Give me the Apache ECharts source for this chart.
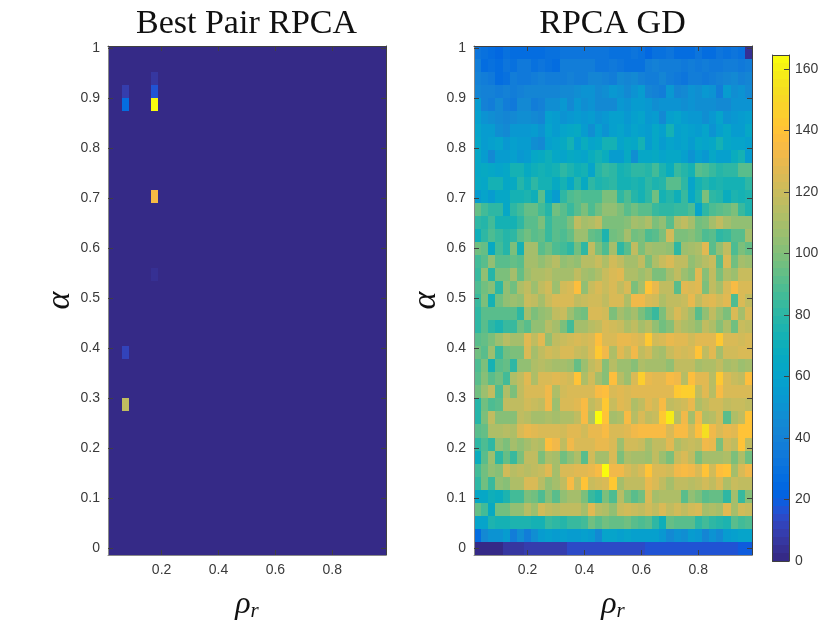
<!DOCTYPE html>
<html>
<head>
<meta charset="utf-8">
<title>Best Pair RPCA vs RPCA GD</title>
<script src="https://cdn.jsdelivr.net/npm/echarts@6/dist/echarts.min.js"></script>
<style>
html, body { margin: 0; padding: 0; background: #fff; }
#chartContainer { width: 830px; height: 623px; }
</style>
</head>
<body>
<div id="chartContainer"></div>
<script>
var xTicks = [0.2, 0.4, 0.6, 0.8];
var yTicks = [0, 0.1, 0.2, 0.3, 0.4, 0.5, 0.6, 0.7, 0.8, 0.9, 1];
var colorTicks = [0, 20, 40, 60, 80, 100, 120, 140, 160];

// right panel, one list per row, top row first
var gdRows = [
[31,29,28,25,29,28,27,27,26,28,30,29,31,31,32,33,31,31,32,30,29,30,31,29,25,29,30,32,27,26,28,31,28,28,31,29,31,29,4],
[38,27,30,27,31,30,34,34,30,33,29,28,37,36,36,38,38,33,33,34,33,30,29,30,37,40,38,37,36,34,36,35,36,34,35,36,38,35,38],
[41,38,34,28,29,38,35,34,38,41,37,38,38,39,37,36,42,43,40,38,46,42,44,40,38,38,42,38,35,33,37,37,34,38,39,42,44,41,43],
[42,39,40,38,40,38,41,42,43,43,42,43,46,44,47,50,50,44,48,52,50,46,50,54,42,40,36,52,42,46,50,48,52,50,38,54,48,50,46],
[56,40,38,44,38,34,46,44,38,40,48,48,52,46,52,48,50,46,44,46,52,50,56,54,52,48,50,50,50,48,50,48,48,48,44,46,50,50,50],
[58,50,48,46,42,44,48,48,44,42,58,54,50,52,54,52,54,50,52,58,58,52,58,60,52,54,44,58,60,54,52,52,48,52,60,50,52,56,58],
[60,54,54,48,44,52,52,52,56,50,60,56,60,62,66,54,48,58,50,58,60,54,60,58,56,62,58,74,58,60,58,56,60,50,58,62,56,56,62],
[62,56,58,60,52,58,54,56,48,46,58,60,66,72,58,68,60,64,72,72,60,66,62,74,56,62,54,60,58,60,56,62,60,64,72,62,60,60,58],
[64,54,46,56,54,58,52,56,64,66,70,62,60,66,62,60,68,72,68,54,54,66,48,62,62,66,60,62,62,58,50,58,52,62,58,58,68,74,56],
[62,66,64,60,62,72,74,66,70,74,70,74,80,76,70,74,60,78,84,80,72,76,80,80,78,86,76,68,84,78,72,90,88,84,78,80,82,92,90],
[66,64,72,72,62,66,78,70,82,72,72,66,72,62,78,66,82,76,78,80,72,72,76,74,80,76,78,90,90,80,60,74,78,72,76,74,72,74,80],
[56,60,56,64,64,72,72,76,70,92,66,56,82,88,90,88,88,88,100,100,82,88,78,72,80,96,72,78,70,84,62,76,98,80,78,68,76,72,76],
[94,86,80,82,64,80,86,94,94,86,78,96,90,84,92,98,88,96,104,104,98,92,96,90,90,84,80,80,84,84,88,60,82,88,92,94,100,84,76],
[82,78,86,74,72,72,82,92,90,98,84,90,90,98,118,110,112,116,98,98,98,102,110,106,112,100,104,90,112,118,108,96,100,110,118,110,104,104,104],
[70,82,88,84,78,82,92,96,90,94,84,90,88,94,106,106,94,92,76,96,100,108,96,100,88,92,98,122,100,98,102,96,88,90,82,84,90,92,108],
[96,94,66,86,78,100,72,110,108,90,96,88,86,82,96,80,116,98,88,108,80,92,118,100,108,106,106,104,82,106,110,112,127,92,104,116,88,100,94],
[86,90,104,92,92,94,92,108,108,104,110,114,104,106,104,114,114,120,112,122,116,108,108,116,100,112,120,124,118,116,104,108,114,120,92,124,96,110,106],
[84,104,78,100,100,110,94,106,112,112,114,110,108,108,118,110,106,112,120,124,127,112,112,106,112,100,100,108,118,106,102,128,102,118,100,112,106,120,120],
[88,96,102,80,104,96,112,118,106,118,122,106,123,125,138,104,120,124,120,124,118,125,100,108,140,130,116,118,90,127,125,128,100,116,108,124,136,124,124],
[84,98,74,96,104,106,104,120,116,108,120,124,125,124,118,120,123,122,118,124,124,112,132,133,124,123,112,116,118,120,131,116,124,127,122,127,88,124,116],
[82,90,90,90,90,92,82,110,100,104,106,118,120,106,100,96,124,124,122,100,110,104,108,100,90,84,100,114,124,116,110,92,104,118,106,98,124,110,125],
[80,90,80,76,84,84,96,90,104,104,114,108,98,86,108,110,114,118,124,122,120,112,118,108,114,104,96,102,118,112,108,104,118,112,102,112,96,120,118],
[92,94,100,106,114,110,110,127,116,127,104,118,120,123,124,123,124,138,124,125,130,130,127,124,142,122,124,130,128,127,122,127,127,128,142,125,125,123,124],
[96,92,106,84,96,100,100,124,108,118,123,120,124,125,120,116,124,142,132,112,128,120,133,118,123,112,110,120,124,123,124,140,118,128,110,122,122,125,125],
[88,98,72,90,94,80,104,104,112,114,112,108,108,106,94,106,116,122,102,114,106,106,102,112,108,110,108,104,116,116,116,108,112,112,118,108,112,106,108],
[92,102,92,96,86,112,118,128,112,124,124,128,124,122,140,112,122,108,102,138,114,106,125,145,130,127,128,136,132,114,138,127,127,114,142,124,120,118,138],
[96,106,116,88,112,100,118,124,124,124,132,112,123,124,124,124,125,135,138,125,127,124,127,127,127,127,127,127,142,144,144,116,127,114,136,124,124,124,125],
[78,96,88,90,116,116,116,122,120,116,132,106,125,125,128,136,116,122,142,120,128,124,112,118,128,123,135,118,120,122,130,112,118,122,122,118,120,120,118],
[78,100,116,102,102,102,118,114,108,108,112,110,112,112,118,135,112,164,140,110,112,135,114,125,116,120,142,158,114,132,110,133,112,114,122,90,112,116,140],
[92,94,112,112,114,112,125,130,127,124,124,125,123,128,128,123,131,130,136,124,124,127,132,136,136,136,136,124,136,136,122,138,152,132,124,130,128,140,140],
[80,88,80,104,100,110,104,108,114,112,138,132,118,133,124,124,124,131,130,125,106,123,122,120,108,118,116,128,112,118,120,118,133,131,100,122,116,140,118],
[68,90,106,80,94,84,98,116,116,100,112,108,96,104,112,92,122,108,108,124,100,112,108,110,106,116,106,100,120,125,118,98,110,110,108,112,100,112,96],
[86,96,104,102,122,114,118,114,116,120,128,110,125,125,127,128,130,135,164,132,133,125,120,124,140,124,124,122,133,136,133,124,140,123,138,140,110,125,133],
[82,96,84,104,102,112,112,124,124,114,104,110,116,136,116,140,120,122,124,142,110,118,118,116,130,124,118,110,118,116,114,116,122,116,124,112,120,118,118],
[64,64,70,68,76,86,86,98,96,88,102,92,104,108,108,100,84,78,100,88,114,98,92,96,124,108,112,112,112,92,104,100,92,94,94,82,110,84,102],
[94,86,66,96,96,104,104,114,106,122,116,114,116,116,116,108,127,114,112,104,120,122,120,118,122,116,124,118,122,116,122,124,108,112,108,128,108,122,120],
[60,60,76,72,72,76,76,76,72,74,84,82,78,84,84,86,96,90,96,94,94,96,90,88,90,82,70,94,90,92,90,82,86,80,78,76,92,86,88],
[28,44,50,50,54,38,48,36,48,54,58,56,58,56,56,58,56,46,60,60,58,60,58,58,58,58,52,46,50,48,56,52,42,50,46,54,58,60,60],
[2,2,2,2,6,6,6,8,8,8,8,8,8,14,14,14,14,14,14,14,14,14,14,14,16,16,16,16,16,16,16,16,16,16,16,16,16,20,20]
];

// left panel is flat apart from these cells: [column, row from top, value]
var bestPairBase = 1;
var bestPairCells = [
  [2, 3, 8], [2, 4, 28], [2, 23, 12], [2, 27, 118],
  [6, 2, 6], [6, 3, 16], [6, 4, 164], [6, 11, 136], [6, 17, 5]
];

var parula = [
[.2081,.1663,.5292],[.2116,.1898,.5777],[.2123,.2138,.6270],[.2081,.2386,.6771],
[.1959,.2645,.7279],[.1707,.2919,.7792],[.1253,.3242,.8303],[.0591,.3598,.8683],
[.0117,.3875,.8820],[.0060,.4086,.8828],[.0165,.4266,.8786],[.0329,.4430,.8720],
[.0498,.4586,.8641],[.0629,.4737,.8554],[.0723,.4887,.8467],[.0779,.5040,.8384],
[.0793,.5200,.8312],[.0749,.5375,.8263],[.0641,.5570,.8240],[.0488,.5772,.8228],
[.0343,.5966,.8199],[.0265,.6137,.8135],[.0239,.6287,.8038],[.0231,.6418,.7913],
[.0228,.6535,.7768],[.0267,.6642,.7607],[.0384,.6743,.7436],[.0590,.6838,.7254],
[.0843,.6928,.7062],[.1133,.7015,.6859],[.1453,.7098,.6646],[.1801,.7177,.6424],
[.2178,.7250,.6193],[.2586,.7317,.5954],[.3022,.7376,.5712],[.3482,.7424,.5473],
[.3953,.7459,.5244],[.4420,.7481,.5033],[.4871,.7491,.4840],[.5300,.7491,.4661],
[.5709,.7485,.4494],[.6099,.7473,.4337],[.6473,.7456,.4188],[.6834,.7435,.4044],
[.7184,.7411,.3905],[.7525,.7384,.3768],[.7858,.7356,.3633],[.8185,.7327,.3498],
[.8507,.7299,.3360],[.8824,.7274,.3217],[.9139,.7258,.3063],[.9450,.7261,.2886],
[.9739,.7314,.2666],[.9938,.7455,.2403],[.9990,.7653,.2164],[.9955,.7861,.1967],
[.9880,.8066,.1794],[.9789,.8271,.1633],[.9697,.8481,.1475],[.9626,.8705,.1309],
[.9589,.8949,.1132],[.9598,.9218,.0948],[.9661,.9514,.0755],[.9763,.9831,.0538]
];

var xMin = 0.0116, xMax = 0.9887;
var yMin = -0.014, yMax = 1.004;
var colorMax = 164.5;
var nCols = 39, nRows = 39;
var cellW = (xMax - xMin) / nCols;
var cellH = (yMax - yMin) / nRows;
var levelH = colorMax / parula.length;

var axisGrey = '#404040';
var textGrey = '#3a3a3a';

function toCell(col, row, value) {
    return [xMin + (col + 0.5) * cellW, yMax - (row + 0.5) * cellH, value];
}

var gdData = [];
gdRows.forEach(function (values, row) {
    values.forEach(function (v, col) {
        gdData.push(toCell(col, row, v));
    });
});

var bestPairData = [];
for (var r = 0; r < nRows; r++) {
    for (var c = 0; c < nCols; c++) {
        bestPairData.push(toCell(c, r, bestPairBase));
    }
}
bestPairCells.forEach(function (cell) {
    bestPairData[cell[1] * nCols + cell[0]] = toCell(cell[0], cell[1], cell[2]);
});

var colorbarData = parula.map(function (rgb, i) {
    return [0.5, (i + 0.5) * levelH, (i + 0.5) * levelH];
});

var pieces = parula.map(function (rgb, i) {
    return {
        min: i * levelH,
        max: i === parula.length - 1 ? 1000 : (i + 1) * levelH,
        color: 'rgb(' + rgb.map(function (v) { return Math.round(v * 255); }).join(',') + ')'
    };
});

// corners are snapped to whole pixels, otherwise neighbouring cells show seams
function cellRenderer(w, h) {
    return function (params, api) {
        var a = api.coord([api.value(0) - w / 2, api.value(1) + h / 2]);
        var b = api.coord([api.value(0) + w / 2, api.value(1) - h / 2]);
        var x0 = Math.round(a[0]), y0 = Math.round(a[1]);
        return {
            type: 'rect',
            shape: { x: x0, y: y0, width: Math.round(b[0]) - x0, height: Math.round(b[1]) - y0 },
            style: { fill: api.visual('color') }
        };
    };
}

function cellSeries(data, axisIndex, w, h) {
    return {
        type: 'custom',
        xAxisIndex: axisIndex,
        yAxisIndex: axisIndex,
        silent: true,
        animation: false,
        clip: true,
        data: data,
        encode: { x: 0, y: 1 },
        renderItem: cellRenderer(w, h)
    };
}

function frameLine(color) {
    return { show: true, onZero: false, lineStyle: { color: color, width: 1 } };
}

function ticks(values, show) {
    return {
        show: show,
        inside: true,
        length: 5,
        customValues: values,
        lineStyle: { color: axisGrey, width: 1 }
    };
}

function labels(values, margin) {
    return {
        show: true,
        customValues: values,
        margin: margin,
        fontFamily: 'Liberation Sans',
        fontSize: 14,
        color: textGrey,
        formatter: function (v) { return String(v); }
    };
}

function panelXAxes(gridIndex) {
    var base = { type: 'value', gridIndex: gridIndex, min: xMin, max: xMax, splitLine: { show: false }, z: 5 };
    return [
        Object.assign({}, base, {
            position: 'bottom',
            axisLine: frameLine('#8a8a8a'),
            axisTick: ticks(xTicks, true),
            axisLabel: labels(xTicks, 8),
            name: '{rho|ρ}{sub|r}',
            nameLocation: 'middle',
            nameGap: 32,
            nameTextStyle: {
                rich: {
                    rho: { fontFamily: 'Liberation Serif', fontStyle: 'italic', fontSize: 32, color: '#111' },
                    sub: { fontFamily: 'Liberation Serif', fontStyle: 'italic', fontSize: 21, color: '#111', padding: [14, 0, 0, 0] }
                }
            }
        }),
        Object.assign({}, base, {
            position: 'top',
            axisLine: frameLine(axisGrey),
            axisTick: ticks(xTicks, true),
            axisLabel: { show: false }
        })
    ];
}

function panelYAxes(gridIndex) {
    var base = { type: 'value', gridIndex: gridIndex, min: yMin, max: yMax, splitLine: { show: false }, z: 5 };
    return [
        Object.assign({}, base, {
            position: 'left',
            axisLine: frameLine('#8a8a8a'),
            axisTick: ticks(yTicks, true),
            axisLabel: labels(yTicks, 8),
            name: 'α',
            nameLocation: 'middle',
            nameGap: 31,
            nameTextStyle: { fontFamily: 'Liberation Serif', fontStyle: 'italic', fontSize: 34, color: '#111' }
        }),
        Object.assign({}, base, {
            position: 'right',
            axisLine: frameLine(axisGrey),
            axisTick: ticks(yTicks, true),
            axisLabel: { show: false }
        })
    ];
}

var barX = { type: 'value', gridIndex: 2, min: 0, max: 1, splitLine: { show: false }, axisTick: { show: false }, axisLabel: { show: false }, axisLine: frameLine(axisGrey), z: 5 };
var barY = { type: 'value', gridIndex: 2, min: 0, max: colorMax, splitLine: { show: false }, axisLine: frameLine(axisGrey), z: 5 };

var chart = echarts.init(document.getElementById('chartContainer'), null, { renderer: 'canvas' });

chart.setOption({
    backgroundColor: '#fff',
    animation: false,
    title: [
        { text: 'Best Pair RPCA', left: 241.5, top: 2, textAlign: 'center', textStyle: { fontFamily: 'Liberation Serif', fontWeight: 'normal', fontSize: 34, color: '#111' } },
        { text: 'RPCA GD', left: 607.5, top: 2, textAlign: 'center', textStyle: { fontFamily: 'Liberation Serif', fontWeight: 'normal', fontSize: 34, color: '#111' } }
    ],
    grid: [
        { left: 108, top: 46, width: 278, height: 509, outerBoundsMode: 'none' },
        { left: 474, top: 46, width: 278, height: 509, outerBoundsMode: 'none' },
        { left: 772.5, top: 55, width: 16.5, height: 506, outerBoundsMode: 'none' }
    ],
    xAxis: panelXAxes(0).concat(panelXAxes(1), [
        Object.assign({}, barX, { position: 'bottom' }),
        Object.assign({}, barX, { position: 'top' })
    ]),
    yAxis: panelYAxes(0).concat(panelYAxes(1), [
        Object.assign({}, barY, {
            position: 'right',
            axisTick: ticks(colorTicks, true),
            axisLabel: labels(colorTicks, 6)
        }),
        Object.assign({}, barY, {
            position: 'left',
            axisTick: { show: false },
            axisLabel: { show: false }
        })
    ]),
    visualMap: {
        type: 'piecewise',
        show: false,
        dimension: 2,
        seriesIndex: [0, 1, 2],
        pieces: pieces
    },
    series: [
        cellSeries(bestPairData, 0, cellW, cellH),
        cellSeries(gdData, 2, cellW, cellH),
        cellSeries(colorbarData, 4, 1, levelH)
    ]
});
</script>
</body>
</html>
